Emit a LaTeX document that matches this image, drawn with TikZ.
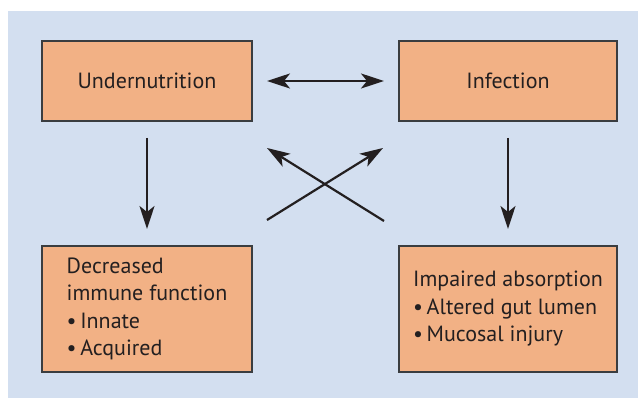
\documentclass[tikz,border=0pt]{standalone}
\usepackage{fontspec}
\setmainfont{PT Sans}
\usetikzlibrary{arrows.meta}
\definecolor{Panel}{HTML}{D3DFF0}
\definecolor{Salmon}{HTML}{F2B185}
\definecolor{Edge}{HTML}{3A3D40}
\definecolor{Ink}{HTML}{231F20}

\begin{document}
\begin{tikzpicture}[x=1pt,y=-1pt,font=\fontsize{22}{27.5}\selectfont,
  box/.style={draw=Edge,fill=Salmon,line width=1.3pt,inner sep=0pt,outer sep=0pt,text=Ink,align=left},
  arr/.style={draw=Ink,line width=2.2pt,-{Stealth[length=23pt,width=15pt,inset=6pt]}}]
  \useasboundingbox (0,0) rectangle (638,398);
  \fill[Panel] (8,11) rectangle (638,398);
  % boxes
  \node[box,minimum width=210pt,minimum height=80pt] (under) at (147,81) {Undernutrition};
  \node[box,minimum width=218pt,minimum height=80pt] (infect) at (508,81) {Infection};
  \node[box,minimum width=210pt,minimum height=126pt] (immune) at (147,309)
    {Decreased\\immune function\\\textbullet\,Innate\\\textbullet\,Acquired};
  \node[box,minimum width=218pt,minimum height=126pt] (absorb) at (508,309)
    {Impaired absorption\\\textbullet\,Altered gut lumen\\\textbullet\,Mucosal injury};
  % arrows
  \draw[arr,{Stealth[length=23pt,width=15pt,inset=6pt]}-{Stealth[length=23pt,width=15pt,inset=6pt]}]
    ([xshift=15pt]under.east) -- ([xshift=-15pt]infect.west);
  \draw[arr] ([yshift=-17pt]under.south) -- ([yshift=17pt]immune.north);
  \draw[arr] ([yshift=-17pt]infect.south) -- ([yshift=17pt]absorb.north);
  \coordinate (lowL) at (267,220);
  \coordinate (lowR) at (384,221);
  \coordinate (upL) at (267,148);
  \coordinate (upR) at (383,148);
  \draw[arr] (lowL) -- (upR);
  \draw[arr] (lowR) -- (upL);
\end{tikzpicture}
\end{document}
